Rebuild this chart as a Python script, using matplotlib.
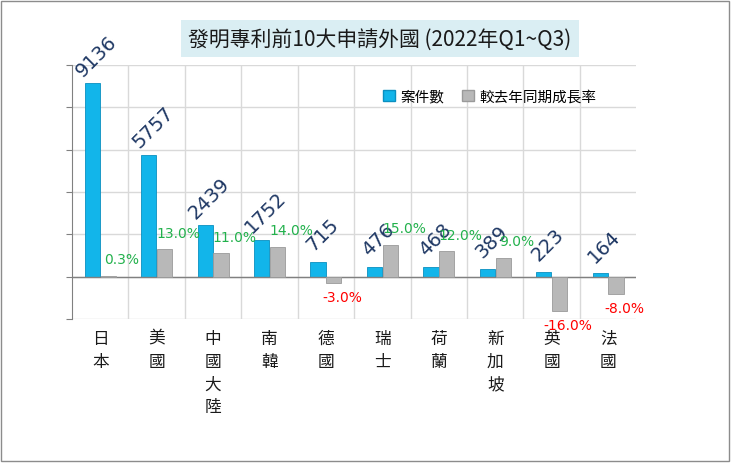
import matplotlib.pyplot as plt
from matplotlib.patches import Rectangle

plt.rcParams["font.family"] = ["Noto Sans CJK TC", "DejaVu Sans"]

COUNTRIES = ["日本", "美國", "中國大陸", "南韓", "德國", "瑞士", "荷蘭", "新加坡", "英國", "法國"]
CASES = [9136, 5757, 2439, 1752, 715, 476, 468, 389, 223, 164]
GROWTH = [0.3, 13.0, 11.0, 14.0, -3.0, 15.0, 12.0, 9.0, -16.0, -8.0]

BLUE = "#12B5EA"
GRAY = "#B8B8B8"

fig = plt.figure(figsize=(7.31, 4.64), dpi=100)
fig.patches.append(Rectangle((0.002, 0.004), 0.995, 0.992, transform=fig.transFigure,
                             fill=False, edgecolor="#8C8C8C", linewidth=1))
ax = fig.add_axes([0.0985, 0.31, 0.772, 0.548])
ax2 = ax.twinx()

x = list(range(len(COUNTRIES)))
w = 0.27
ax.bar([i - 0.14 for i in x], CASES, width=w, color=BLUE, edgecolor="#0A8FC0", linewidth=0.6, zorder=3)
ax2.bar([i + 0.14 for i in x], GROWTH, width=w, color=GRAY, edgecolor="#9A9A9A", linewidth=0.6, zorder=3)

ax.set_xlim(-0.5, len(COUNTRIES) - 0.5)
ax.set_ylim(-2000, 10000)
ax2.set_ylim(-20, 100)
ax.set_yticks(range(-2000, 10001, 2000))
ax.set_yticklabels([])
ax2.set_yticks([])
ax.set_xticks([i + 0.5 for i in x[:-1]], minor=True)
ax.set_xticks([])
ax.grid(True, which="minor", axis="x", color="#D9D9D9", linewidth=1, zorder=0)
ax.grid(True, which="major", axis="y", color="#D9D9D9", linewidth=1, zorder=0)
ax.tick_params(axis="y", length=4, color="#808080")
ax.tick_params(axis="x", which="minor", length=0)
for s in ["top", "right", "bottom"]:
    ax.spines[s].set_visible(False)
    ax2.spines[s].set_visible(False)
ax2.spines["left"].set_visible(False)
ax.spines["left"].set_color("#808080")
ax.axhline(0, color="#808080", linewidth=1, zorder=4)

for i, v in enumerate(CASES):
    ax.annotate(str(v), (i - 0.14, v), xytext=(3, 20), textcoords="offset points",
                rotation=45, ha="center", va="center", fontsize=14,
                color="#1F3864", family="DejaVu Sans")
for i, g in enumerate(GROWTH):
    if g >= 0:
        ax2.annotate(f"{g:.1f}%", (i + 0.14, g), xytext=(10, 12), textcoords="offset points",
                     ha="center", va="center", fontsize=10, color="#22B14C", family="DejaVu Sans")
    else:
        ax2.annotate(f"{g:.1f}%", (i + 0.14, g), xytext=(6, -10), textcoords="offset points",
                     ha="center", va="center", fontsize=10, color="#FF0000", family="DejaVu Sans")

for i, name in enumerate(COUNTRIES):
    t = ax.text(i, -2500, "\n".join(name), ha="center", va="top",
                fontsize=12, linespacing=1.45, color="#1A1A1A")
    t.set_clip_on(False)

fig.text(0.52, 0.915, "發明專利前10大申請外國 (2022年Q1~Q3)", ha="center", va="center",
         fontsize=15, color="#1A1A1A",
         bbox=dict(boxstyle="square,pad=0.35", facecolor="#DAEEF3", edgecolor="none"))

h1 = Rectangle((0, 0), 1, 1, facecolor=BLUE, edgecolor="#0A8FC0")
h2 = Rectangle((0, 0), 1, 1, facecolor=GRAY, edgecolor="#9A9A9A")
fig.legend([h1, h2], ["案件數", "較去年同期成長率"], loc="center", bbox_to_anchor=(0.67, 0.79),
           ncol=2, frameon=False, fontsize=10.5, handlelength=0.8, handleheight=0.8,
           columnspacing=1.2, handletextpad=0.4)

fig.savefig("out.png", dpi=100)
